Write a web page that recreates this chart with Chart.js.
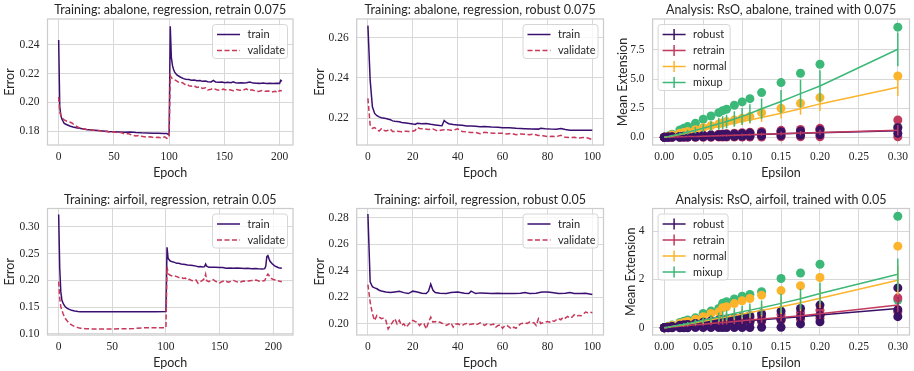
<!DOCTYPE html>
<html>
<head>
<meta charset="utf-8">
<script src="https://cdn.jsdelivr.net/npm/chart.js@4.4.1/dist/chart.umd.min.js"></script>
<style>
  body { margin: 0; background: #fff; }
  #fig { position: relative; width: 914px; height: 371px; overflow: hidden; }
  #fig canvas { position: absolute; }
</style>
</head>
<body>
<div id="fig">
  <canvas id="c1" width="305" height="185" style="left:0;top:0"></canvas>
  <canvas id="c2" width="305" height="185" style="left:305px;top:0"></canvas>
  <canvas id="c3" width="304" height="185" style="left:610px;top:0"></canvas>
  <canvas id="c4" width="305" height="186" style="left:0;top:185px"></canvas>
  <canvas id="c5" width="305" height="186" style="left:305px;top:185px"></canvas>
  <canvas id="c6" width="304" height="186" style="left:610px;top:185px"></canvas>
</div>
<script>
// ---- training curves: abalone, retrain 0.075
const abRetrainTrainEp = [0,1,2,3,4,5,7,10,13,16,20,25,30,35,40,45,50,55,60,65,70,75,80,85,90,95,98,99,100,101,102,103,104,105,107,110,113,115,118,120,123,125,128,130,133,135,138,140,142,145,148,150,153,156,158,160,162,165,168,170,173,176,179,182,185,188,191,194,197,200,201,202];
const abRetrainTrain = [0.2432,0.197,0.191,0.1885,0.187,0.1855,0.1848,0.1837,0.183,0.1825,0.182,0.1813,0.181,0.1806,0.1803,0.18,0.1798,0.1796,0.1794,0.1795,0.1792,0.179,0.1789,0.1788,0.1787,0.1785,0.1786,0.1779,0.1776,0.2526,0.231,0.2256,0.2228,0.221,0.219,0.2176,0.2165,0.216,0.2158,0.2153,0.2155,0.215,0.2152,0.2146,0.2148,0.2144,0.2142,0.2152,0.2142,0.214,0.2141,0.2137,0.2139,0.2136,0.2143,0.2137,0.2135,0.2136,0.2134,0.2136,0.2142,0.2134,0.2133,0.2132,0.2134,0.2131,0.2132,0.2131,0.2133,0.2132,0.2153,0.2146];
const abRetrainValEp = [0,1,2,3,4,5,7,10,12,15,18,20,23,26,30,33,36,40,43,46,50,53,56,60,63,66,70,73,76,80,83,86,90,93,96,98,99,100,101,102,104,106,108,110,112,114,116,118,120,122,125,128,130,133,135,138,140,143,146,149,152,155,158,161,164,167,170,172,175,178,181,184,187,190,193,196,198,200,202];
const abRetrainVal = [0.2038,0.1935,0.191,0.1895,0.1888,0.188,0.1872,0.1865,0.1858,0.184,0.1828,0.182,0.1818,0.1812,0.181,0.1806,0.1808,0.1798,0.1801,0.1795,0.1797,0.1791,0.1794,0.1782,0.1785,0.1775,0.1768,0.1772,0.1764,0.176,0.1763,0.1758,0.1759,0.1755,0.1762,0.1752,0.1754,0.1762,0.2187,0.2171,0.216,0.2153,0.2142,0.2135,0.2138,0.2125,0.2128,0.2115,0.2112,0.2118,0.2104,0.2108,0.2097,0.2102,0.2086,0.2092,0.2098,0.2088,0.2084,0.2092,0.2085,0.2088,0.2082,0.209,0.2084,0.2086,0.2094,0.2082,0.2088,0.2079,0.2076,0.2082,0.2077,0.2079,0.2072,0.2078,0.2068,0.2083,0.2081];

// ---- training curves: abalone, robust 0.075
const abRobustTrainEp = [0,1,2,3,4,5,6,8,10,11,12,14,15,17,20,21,22,24,26,28,30,32,33,34,35,36,38,40,42,44,46,48,50,52,55,58,60,63,66,70,73,76,77,79,82,84,86,88,90,93,96,98,100];
const abRobustTrain = [0.266,0.2389,0.2256,0.2223,0.2212,0.2206,0.2202,0.2198,0.2192,0.2186,0.2184,0.2182,0.2178,0.2176,0.2171,0.2168,0.2174,0.2172,0.2173,0.2169,0.2166,0.2163,0.2162,0.2188,0.2178,0.2172,0.2168,0.2166,0.2164,0.2161,0.216,0.2159,0.2157,0.2158,0.2155,0.2154,0.2152,0.2152,0.2149,0.2147,0.2146,0.2145,0.2149,0.2147,0.2145,0.2144,0.2148,0.2143,0.214,0.2139,0.2139,0.214,0.2139];
const abRobustValEp = [0,1,2,3,4,5,6,7,8,9,10,11,13,15,17,19,21,22,23,25,27,29,31,33,35,37,39,40,42,44,46,48,50,52,54,56,58,60,62,64,66,68,70,72,74,76,78,80,82,84,86,88,90,92,94,96,98,100];
const abRobustVal = [0.2298,0.2165,0.2149,0.2153,0.2142,0.2135,0.2147,0.2139,0.2136,0.2139,0.2145,0.2133,0.2134,0.2132,0.2135,0.2133,0.2138,0.2153,0.2148,0.2146,0.2143,0.2146,0.2136,0.2141,0.2143,0.2139,0.2143,0.2147,0.2133,0.2131,0.2128,0.2129,0.2122,0.2129,0.2126,0.2124,0.2125,0.2124,0.2121,0.2124,0.2117,0.2121,0.2119,0.2117,0.212,0.2113,0.2112,0.2108,0.2109,0.2108,0.2114,0.2104,0.2103,0.2104,0.2101,0.2103,0.2101,0.2093];

// ---- training curves: airfoil, retrain 0.05
const afRetrainTrainEp = [0,1,2,3,4,5,6,8,10,12,15,18,20,30,40,50,60,70,80,90,100,101,102,103,104,106,108,110,112,114,116,118,120,123,125,128,130,132,134,136,137,138,140,143,146,150,153,156,160,163,166,170,173,176,180,183,186,190,192,193,194,195,196,197,199,201,203,205,208];
const afRetrainTrain = [0.323,0.2224,0.1789,0.1634,0.158,0.154,0.1512,0.1478,0.1458,0.144,0.1428,0.142,0.1416,0.1414,0.1414,0.1415,0.1414,0.1415,0.1416,0.1416,0.1417,0.2615,0.241,0.2385,0.236,0.2345,0.2335,0.2317,0.232,0.2305,0.2302,0.2295,0.2286,0.2282,0.2275,0.2265,0.2255,0.2258,0.2248,0.2255,0.2304,0.2262,0.2242,0.2245,0.2243,0.224,0.2238,0.2224,0.2229,0.2224,0.2228,0.2224,0.222,0.2224,0.2218,0.2222,0.2216,0.2211,0.2218,0.2262,0.2441,0.246,0.2405,0.2355,0.231,0.2275,0.2252,0.2236,0.2224];
const afRetrainValEp = [0,1,2,3,4,5,6,8,10,12,15,18,20,25,30,40,50,60,70,80,90,100,101,102,104,106,108,110,112,114,116,118,120,122,124,126,128,130,132,134,136,137,138,140,142,144,146,148,150,152,155,158,160,163,166,169,172,175,178,181,184,187,190,192,193,194,195,196,198,200,203,205,208];
const afRetrainVal = [0.1975,0.1665,0.1509,0.144,0.1385,0.1335,0.1292,0.124,0.1199,0.1168,0.1137,0.1118,0.1106,0.1098,0.1093,0.1094,0.1093,0.1097,0.11,0.1116,0.1115,0.1117,0.2255,0.2125,0.2095,0.2078,0.2085,0.2068,0.2052,0.2058,0.2035,0.2042,0.2006,0.2018,0.1995,0.1988,0.2005,0.1944,0.1972,0.2,0.2035,0.2112,0.1992,0.1975,0.1998,0.2012,0.1985,0.1962,0.1952,0.1975,0.1992,0.1966,0.1978,0.1998,0.1972,0.1962,0.1985,0.1978,0.1992,0.1995,0.2005,0.1985,0.1988,0.1995,0.2035,0.2085,0.2118,0.209,0.2035,0.2015,0.2005,0.1988,0.1975];

// ---- training curves: airfoil, robust 0.05
const afRobustTrainEp = [0,1,2,3,4,5,6,8,10,12,14,16,18,20,22,24,26,27,28,29,30,32,35,37,40,43,45,46,48,50,53,55,58,60,63,65,68,70,72,75,77,78,80,82,85,88,90,92,95,97,100];
const afRobustTrain = [0.283,0.2318,0.228,0.2272,0.2265,0.2254,0.2248,0.2241,0.2236,0.2241,0.2246,0.2236,0.2229,0.2247,0.2241,0.2232,0.2229,0.2247,0.23,0.2254,0.2236,0.2232,0.2229,0.2236,0.2241,0.2232,0.2229,0.2247,0.2229,0.2234,0.2232,0.2229,0.2231,0.2229,0.2229,0.2229,0.2232,0.2236,0.2229,0.2231,0.2238,0.2241,0.2241,0.2236,0.2229,0.2232,0.2236,0.2229,0.2229,0.2232,0.2221];
const afRobustValEp = [0,1,2,3,4,5,6,7,8,9,10,11,12,13,14,15,16,17,18,19,20,21,22,23,24,25,26,27,28,29,30,31,32,33,34,35,36,37,38,39,40,41,42,43,44,45,46,47,48,49,50,51,52,53,54,55,56,57,58,59,60,61,62,63,64,65,66,67,68,69,70,71,72,73,74,75,76,77,78,79,80,81,82,83,84,85,86,87,88,89,90,91,92,93,94,95,96,97,98,99,100];
const afRobustVal = [0.2297,0.2165,0.2077,0.2026,0.2064,0.2051,0.2039,0.2044,0.2026,0.1962,0.1988,0.2013,0.2039,0.2,0.2026,0.1988,0.2,0.1975,0.1993,0.2013,0.2026,0.2018,0.2013,0.1988,0.2005,0.2,0.1962,0.2013,0.2051,0.2013,0.2018,0.2008,0.2013,0.2005,0.2,0.1988,0.1998,0.2008,0.1975,0.1998,0.2,0.1993,0.1988,0.1998,0.2003,0.1993,0.1998,0.2,0.1993,0.1998,0.2008,0.2,0.1988,0.1998,0.1993,0.1993,0.1998,0.1975,0.1988,0.1993,0.1967,0.1985,0.1988,0.1975,0.1962,0.1975,0.1967,0.1985,0.2,0.2005,0.2008,0.2003,0.2013,0.2008,0.2008,0.1988,0.2039,0.2003,0.2008,0.2013,0.2018,0.2013,0.2026,0.2018,0.2031,0.2039,0.2031,0.2051,0.2044,0.2056,0.2044,0.2051,0.2069,0.2059,0.2064,0.2061,0.2072,0.2089,0.2084,0.2089,0.2084];

// ---- RsO analysis: epsilon grid shared by both datasets
const epsilons = [0,0.005,0.01,0.02,0.025,0.03,0.04,0.05,0.06,0.07,0.075,0.08,0.09,0.1,0.11,0.125,0.15,0.175,0.2,0.3];

// abalone, trained with 0.075
const abRobustMean = [0,0.01,0.02,0.04,0.05,0.06,0.08,0.1,0.12,0.14,0.15,0.16,0.18,0.2,0.22,0.25,0.3,0.34,0.4,0.56];
const abRobustStd = [0,0.01,0.01,0.02,0.02,0.03,0.03,0.04,0.05,0.06,0.06,0.07,0.07,0.08,0.09,0.1,0.12,0.14,0.16,0.2];
const abRobustHi = [0,0.02,0.04,0.07,0.08,0.1,0.13,0.16,0.19,0.22,0.24,0.26,0.29,0.32,0.36,0.4,0.48,0.55,0.62,0.82];
const abRobustLo = [0,0,0.01,0.01,0.02,0.02,0.03,0.04,0.05,0.06,0.06,0.07,0.08,0.09,0.1,0.12,0.15,0.18,0.22,0.34];
const abRetrainMean = [0,0.01,0.02,0.04,0.05,0.06,0.08,0.1,0.12,0.14,0.15,0.16,0.18,0.2,0.22,0.26,0.31,0.36,0.42,0.6];
const abRetrainStd = [0,0.01,0.01,0.02,0.03,0.03,0.04,0.05,0.06,0.07,0.07,0.08,0.09,0.1,0.11,0.13,0.16,0.19,0.22,0.45];
const abRetrainHi = [0,0.02,0.04,0.08,0.1,0.12,0.15,0.19,0.23,0.27,0.29,0.31,0.35,0.39,0.43,0.5,0.6,0.68,0.77,1.49];
const abRetrainLo = [0,0,0,0,0,0,0.01,0.01,0.01,0.02,0.02,0.02,0.02,0.03,0.03,0.03,0.04,0.04,0.05,0.05];
const abNormalMean = [0,0.05,0.11,0.24,0.3,0.36,0.5,0.63,0.78,0.92,0.99,1.06,1.2,1.35,1.48,1.7,2.06,2.45,2.87,4.3];
const abNormalStd = [0,0.01,0.03,0.05,0.07,0.08,0.11,0.14,0.17,0.2,0.22,0.24,0.27,0.3,0.32,0.38,0.45,0.52,0.6,0.75];
const abNormalHi = [0,0.08,0.2,0.35,0.42,0.49,0.66,0.83,1.0,1.15,1.25,1.35,1.49,1.63,1.78,2.12,2.49,2.92,3.41,5.27];
const abNormalLo = [0,0.02,0.04,0.07,0.08,0.1,0.13,0.16,0.19,0.22,0.24,0.26,0.29,0.32,0.36,0.4,0.48,0.55,0.62,0.82];
const abMixupMean = [0,0.06,0.13,0.28,0.36,0.44,0.6,0.78,0.97,1.16,1.26,1.36,1.58,1.8,2.05,2.45,3.07,3.75,4.41,7.56];
const abMixupStd = [0,0.03,0.06,0.13,0.17,0.2,0.28,0.35,0.42,0.5,0.55,0.58,0.65,0.72,0.8,0.88,1.0,1.2,1.35,1.45];
const abMixupHi = [0,0.12,0.26,0.63,0.77,0.92,1.2,1.55,1.83,2.12,2.29,2.41,2.75,3.04,3.32,3.84,4.7,5.5,6.27,9.46];
const abMixupLo = [0,0.02,0.04,0.07,0.08,0.1,0.13,0.16,0.19,0.22,0.24,0.26,0.29,0.32,0.36,0.4,0.48,0.55,0.62,0.91];

// airfoil, trained with 0.05
const afRobustMean = [0,0.01,0.03,0.05,0.07,0.08,0.11,0.13,0.16,0.19,0.2,0.21,0.24,0.27,0.29,0.33,0.39,0.46,0.53,0.8];
const afRobustStd = [0,0.01,0.02,0.03,0.04,0.05,0.06,0.08,0.1,0.11,0.12,0.13,0.14,0.16,0.18,0.2,0.25,0.28,0.3,0.45];
const afRobustHi = [0,0.02,0.05,0.1,0.12,0.14,0.18,0.23,0.28,0.32,0.34,0.36,0.4,0.45,0.5,0.58,0.69,0.8,0.94,1.65];
const afRobustMid = [0,0.01,0.02,0.05,0.06,0.07,0.09,0.12,0.15,0.17,0.18,0.2,0.22,0.25,0.27,0.31,0.35,0.45,0.52,0.75];
const afRobustLo = [0,0,0,0,0,0,0.01,0.01,0.01,0.01,0.01,0.01,0.01,0.01,0.01,0.02,0.02,0.16,0.25,0.46];
const afRetrainMean = [0,0.01,0.03,0.06,0.07,0.09,0.12,0.15,0.18,0.21,0.22,0.23,0.26,0.29,0.32,0.36,0.43,0.5,0.58,0.94];
const afRetrainStd = [0,0.01,0.02,0.03,0.04,0.05,0.06,0.07,0.08,0.09,0.1,0.1,0.11,0.12,0.13,0.15,0.17,0.2,0.22,0.3];
const afRetrainHi = [0,0.02,0.04,0.08,0.1,0.12,0.16,0.2,0.24,0.27,0.29,0.31,0.34,0.38,0.42,0.47,0.55,0.62,0.73,1.24];
const afRetrainLo = [0,0,0.01,0.03,0.04,0.05,0.07,0.09,0.11,0.13,0.14,0.15,0.17,0.19,0.21,0.25,0.3,0.35,0.39,0.66];
const afNormalMean = [0,0.02,0.05,0.1,0.12,0.15,0.21,0.27,0.33,0.39,0.42,0.45,0.51,0.57,0.63,0.72,0.87,1.04,1.22,1.97];
const afNormalStd = [0,0.01,0.02,0.04,0.05,0.06,0.08,0.1,0.12,0.14,0.15,0.16,0.18,0.2,0.22,0.25,0.3,0.35,0.4,0.6];
const afNormalHi = [0,0.04,0.09,0.18,0.22,0.26,0.35,0.46,0.59,0.66,0.83,0.87,1.0,1.12,1.21,1.35,1.54,1.74,2.08,3.38];
const afNormalLo = [0,0.01,0.02,0.05,0.06,0.07,0.09,0.12,0.15,0.17,0.18,0.2,0.22,0.25,0.27,0.31,0.35,0.45,0.52,0.66];
const afMixupMean = [0,0.02,0.05,0.11,0.14,0.17,0.24,0.31,0.38,0.45,0.49,0.52,0.59,0.66,0.73,0.83,1.01,1.2,1.42,2.22];
const afMixupStd = [0,0.01,0.02,0.05,0.06,0.07,0.1,0.12,0.15,0.18,0.19,0.2,0.22,0.25,0.27,0.3,0.4,0.42,0.45,0.65];
const afMixupHi = [0,0.06,0.11,0.22,0.27,0.32,0.41,0.59,0.69,0.8,1.02,1.08,1.19,1.31,1.38,1.49,2.04,2.27,2.63,4.62];
const afMixupLo = [0,0.01,0.02,0.05,0.06,0.07,0.09,0.12,0.15,0.17,0.18,0.2,0.22,0.25,0.27,0.31,0.35,0.45,0.52,1.15];

// ---- ticks
const epochTicks200 = [0,50,100,150,200];
const epochTicks100 = [0,20,40,60,80,100];
const epsTicks = [0,0.05,0.1,0.15,0.2,0.25,0.3];

const SANS = 'Lato, "DejaVu Sans", sans-serif';
const SERIF = '"Liberation Serif", "DejaVu Serif", serif';
const INK = '#262626';
const GRID = '#d8d8d8';
const C_TRAIN = '#3b0f70', C_VAL = '#c8385a';
const C_ROBUST = '#3a1366', C_RETRAIN = '#c23b5e', C_NORMAL = '#fbb42c', C_MIXUP = '#3cb878';

Chart.defaults.font.family = SANS;
Chart.defaults.color = INK;

const pts = (xs, ys) => xs.map((x, i) => ({x: x, y: ys[i]}));

// vertical std bars for datasets that carry an errorBars array
Chart.register({
  id: 'errorBars',
  afterDatasetsDraw(chart) {
    const {ctx, chartArea: a, scales: {x, y}} = chart;
    ctx.save();
    ctx.beginPath();
    ctx.rect(a.left, a.top, a.right - a.left, a.bottom - a.top);
    ctx.clip();
    chart.data.datasets.forEach(ds => {
      if (!ds.errorBars) return;
      ctx.strokeStyle = ds.borderColor;
      ctx.lineWidth = 1.5;
      ctx.beginPath();
      ds.data.forEach((p, i) => {
        const px = x.getPixelForValue(p.x);
        ctx.moveTo(px, y.getPixelForValue(p.y - ds.errorBars[i]));
        ctx.lineTo(px, y.getPixelForValue(p.y + ds.errorBars[i]));
      });
      ctx.stroke();
    });
    ctx.restore();
  }
});

// axes frame on all four sides, centred title and a matplotlib-like legend inside the axes
Chart.register({
  id: 'frameLegend',
  afterDraw(chart, args, opts) {
    const {ctx, chartArea: a} = chart;
    ctx.save();
    ctx.strokeStyle = '#cccccc';
    ctx.lineWidth = 1.25;
    ctx.strokeRect(a.left, a.top, a.right - a.left, a.bottom - a.top);

    if (opts.title) {
      ctx.font = '12.5px ' + SANS;
      ctx.fillStyle = INK;
      ctx.textAlign = 'center';
      ctx.textBaseline = 'middle';
      ctx.fillText(opts.title, (a.left + a.right) / 2, a.top - 9);
      ctx.textAlign = 'left';
    }

    const items = chart.data.datasets.filter(d => d.inLegend);
    if (items.length) {
      const w = opts.width || 75;
      const h = items.length * 16 + 2;
      const bx = opts.side === 'left' ? a.left + 5.5 : a.right - 5.5 - w;
      const by = a.top + 5.5;
      ctx.beginPath();
      ctx.roundRect(bx, by, w, h, 3);
      ctx.fillStyle = 'rgba(255,255,255,0.8)';
      ctx.fill();
      ctx.strokeStyle = '#d6d6d6';
      ctx.lineWidth = 1;
      ctx.stroke();
      ctx.font = '11px ' + SANS;
      ctx.textBaseline = 'middle';
      items.forEach((d, i) => {
        const yy = by + 10 + i * 16;
        ctx.strokeStyle = d.borderColor;
        ctx.lineWidth = 1.5;
        ctx.setLineDash(d.borderDash || []);
        ctx.beginPath();
        ctx.moveTo(bx + 4.5, yy);
        ctx.lineTo(bx + 27.5, yy);
        if (d.errorBars) {
          ctx.moveTo(bx + 16, yy - 5.5);
          ctx.lineTo(bx + 16, yy + 5.5);
        }
        ctx.stroke();
        ctx.setLineDash([]);
        ctx.fillStyle = INK;
        ctx.fillText(d.label, bx + 35, yy);
      });
    }
    ctx.restore();
  }
});

function trainingSets(trEp, tr, vaEp, va) {
  return [
    {label: 'train', data: pts(trEp, tr), borderColor: C_TRAIN, borderWidth: 1.5, pointRadius: 0, order: 1, inLegend: true},
    {label: 'validate', data: pts(vaEp, va), borderColor: C_VAL, borderWidth: 1.5, borderDash: [5, 2.5], pointRadius: 0, order: 0, inLegend: true}
  ];
}

function methodSets(name, color, mean, std, runs, lineOrder, dotOrder) {
  return [
    {type: 'line', label: name, data: pts(epsilons, mean), errorBars: std, borderColor: color, borderWidth: 1.5, pointRadius: 0, order: lineOrder, inLegend: true},
    {type: 'scatter', label: name + ' runs', data: runs.flatMap(r => pts(epsilons, r)), backgroundColor: color, borderWidth: 0, pointRadius: 4.5, order: dotOrder}
  ];
}

function makeChart(id, c) {
  const labelFont = {family: SANS, size: 12.5, weight: 'normal'};
  const tickFont = {family: SERIF, size: 11.5};
  return new Chart(document.getElementById(id), {
    type: c.type,
    data: {datasets: c.datasets},
    options: {
      responsive: false,
      animation: false,
      events: [],
      layout: {padding: {top: c.padTop, right: c.padRight}},
      plugins: {
        legend: {display: false},
        tooltip: {enabled: false},
        title: {display: false},
        frameLegend: {title: c.title, side: c.legendSide, width: c.legendWidth}
      },
      scales: {
        x: {
          type: 'linear', min: c.xRange[0], max: c.xRange[1],
          afterBuildTicks: s => { s.ticks = c.xTicks.map(v => ({value: v})); },
          afterFit: s => { s.height = c.xHeight; },
          ticks: {callback: v => v.toFixed(c.xDigits), font: tickFont, color: INK, padding: 5, maxRotation: 0, autoSkip: false},
          grid: {color: GRID, lineWidth: 1, drawTicks: false},
          border: {display: false},
          title: {display: true, text: c.xTitle, color: INK, font: labelFont, padding: {top: 0, bottom: c.xTitlePad}}
        },
        y: {
          type: 'linear', min: c.yRange[0], max: c.yRange[1],
          afterBuildTicks: s => { s.ticks = c.yTicks.map(v => ({value: v})); },
          afterFit: s => { s.width = c.yWidth; },
          ticks: {callback: v => v.toFixed(c.yDigits), font: tickFont, color: INK, padding: 8, autoSkip: false},
          grid: {color: GRID, lineWidth: 1, drawTicks: false},
          border: {display: false},
          title: {display: true, text: c.yTitle, color: INK, font: labelFont, padding: {top: c.yTitlePad, bottom: 0}}
        }
      }
    }
  });
}

const row1 = {padTop: 19, xHeight: 40, xTitlePad: 4.2};
const row2 = {padTop: 23.5, xHeight: 36, xTitlePad: 0.2};

makeChart('c1', Object.assign({}, row1, {
  type: 'line', title: 'Training: abalone, regression, retrain 0.075',
  datasets: trainingSets(abRetrainTrainEp, abRetrainTrain, abRetrainValEp, abRetrainVal),
  xRange: [-10.1, 212.1], xTicks: epochTicks200, xDigits: 0, xTitle: 'Epoch',
  yRange: [0.1706, 0.2577], yTicks: [0.18, 0.20, 0.22, 0.24], yDigits: 2, yTitle: 'Error',
  yWidth: 47.5, yTitlePad: 2.5, padRight: 12, legendSide: 'right', legendWidth: 75
}));

makeChart('c2', Object.assign({}, row1, {
  type: 'line', title: 'Training: abalone, regression, robust 0.075',
  datasets: trainingSets(abRobustTrainEp, abRobustTrain, abRobustValEp, abRobustVal),
  xRange: [-5, 105], xTicks: epochTicks100, xDigits: 0, xTitle: 'Epoch',
  yRange: [0.2066, 0.2693], yTicks: [0.22, 0.24, 0.26], yDigits: 2, yTitle: 'Error',
  yWidth: 51.7, yTitlePad: 7.5, padRight: 6.5, legendSide: 'right', legendWidth: 75
}));

makeChart('c3', Object.assign({}, row1, {
  type: 'scatter', title: 'Analysis: RsO, abalone, trained with 0.075',
  datasets: [].concat(
    methodSets('robust', C_ROBUST, abRobustMean, abRobustStd, [abRobustHi, abRobustLo], 4, 10),
    methodSets('retrain', C_RETRAIN, abRetrainMean, abRetrainStd, [abRetrainHi, abRetrainLo], 3, 11),
    methodSets('normal', C_NORMAL, abNormalMean, abNormalStd, [abNormalHi, abNormalLo], 2, 12),
    methodSets('mixup', C_MIXUP, abMixupMean, abMixupStd, [abMixupHi, abMixupLo], 1, 13)
  ),
  xRange: [-0.015, 0.315], xTicks: epsTicks, xDigits: 2, xTitle: 'Epsilon',
  yRange: [-0.66, 10.16], yTicks: [0, 2.5, 5, 7.5], yDigits: 1, yTitle: 'Mean Extension',
  yWidth: 42.6, yTitlePad: 5.2, padRight: 3.6, legendSide: 'left', legendWidth: 72
}));

makeChart('c4', Object.assign({}, row2, {
  type: 'line', title: 'Training: airfoil, regression, retrain 0.05',
  datasets: trainingSets(afRetrainTrainEp, afRetrainTrain, afRetrainValEp, afRetrainVal),
  xRange: [-10.4, 218.4], xTicks: epochTicks200, xDigits: 0, xTitle: 'Epoch',
  yRange: [0.098, 0.334], yTicks: [0.10, 0.15, 0.20, 0.25, 0.30], yDigits: 2, yTitle: 'Error',
  yWidth: 47.5, yTitlePad: 2.5, padRight: 12, legendSide: 'right', legendWidth: 75
}));

makeChart('c5', Object.assign({}, row2, {
  type: 'line', title: 'Training: airfoil, regression, robust 0.05',
  datasets: trainingSets(afRobustTrainEp, afRobustTrain, afRobustValEp, afRobustVal),
  xRange: [-5, 105], xTicks: epochTicks100, xDigits: 0, xTitle: 'Epoch',
  yRange: [0.1916, 0.2871], yTicks: [0.20, 0.22, 0.24, 0.26, 0.28], yDigits: 2, yTitle: 'Error',
  yWidth: 51.7, yTitlePad: 7.5, padRight: 6.5, legendSide: 'right', legendWidth: 75
}));

makeChart('c6', Object.assign({}, row2, {
  type: 'scatter', title: 'Analysis: RsO, airfoil, trained with 0.05',
  datasets: [].concat(
    methodSets('robust', C_ROBUST, afRobustMean, afRobustStd, [afRobustHi, afRobustMid, afRobustLo], 4, 10),
    methodSets('retrain', C_RETRAIN, afRetrainMean, afRetrainStd, [afRetrainHi, afRetrainLo], 3, 11),
    methodSets('normal', C_NORMAL, afNormalMean, afNormalStd, [afNormalHi, afNormalLo], 2, 12),
    methodSets('mixup', C_MIXUP, afMixupMean, afMixupStd, [afMixupHi, afMixupLo], 1, 13)
  ),
  xRange: [-0.015, 0.315], xTicks: epsTicks, xDigits: 2, xTitle: 'Epsilon',
  yRange: [-0.30, 4.94], yTicks: [0, 2, 4], yDigits: 0, yTitle: 'Mean Extension',
  yWidth: 42.6, yTitlePad: 13.8, padRight: 3.6, legendSide: 'left', legendWidth: 70
}));
</script>
</body>
</html>
